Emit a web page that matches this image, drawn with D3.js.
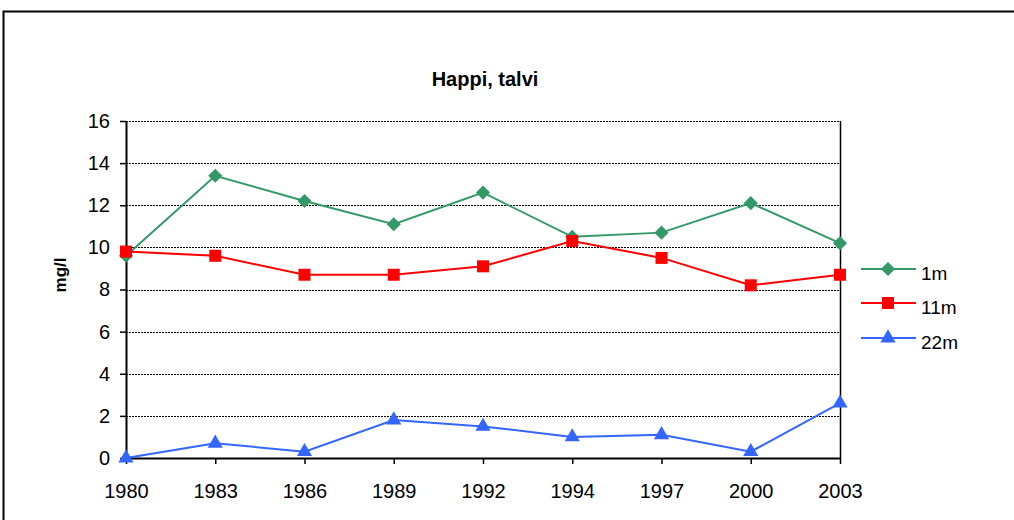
<!DOCTYPE html>
<html>
<head>
<meta charset="utf-8">
<script src="https://cdn.jsdelivr.net/npm/d3@7"></script>
<style>
  body { margin: 0; background: #fff; }
  svg { font-family: "Liberation Sans", Arial, sans-serif; }
</style>
</head>
<body>
<svg id="chart" width="1014" height="520"></svg>
<script>
// data
var years = ["1980", "1983", "1986", "1989", "1992", "1994", "1997", "2000", "2003"];
var depth1 = [9.6, 13.4, 12.2, 11.1, 12.6, 10.5, 10.7, 12.1, 10.2];
var depth11 = [9.8, 9.6, 8.7, 8.7, 9.1, 10.3, 9.5, 8.2, 8.7];
var depth22 = [0.0, 0.7, 0.3, 1.8, 1.5, 1.0, 1.1, 0.3, 2.6];
var yTicks = [0, 2, 4, 6, 8, 10, 12, 14, 16];

var series = [
    { name: "1m", values: depth1, color: "#339966", symbol: d3.symbolSquare, size: 100, rotate: 45 },
    { name: "11m", values: depth11, color: "#ff0000", symbol: d3.symbolSquare, size: 144, rotate: 0 },
    { name: "22m", values: depth22, color: "#3366ff", symbol: d3.symbolTriangle, size: 100, rotate: 0 }
];

var svg = d3.select("#chart");

// outer chart border
svg.append("rect")
    .attr("x", 3.5).attr("y", 11.5)
    .attr("width", 1030).attr("height", 530)
    .attr("fill", "none")
    .attr("stroke", "#000")
    .attr("stroke-width", 2);

var plotLeft = 126, plotRight = 840, plotTop = 121, plotBottom = 458;

var x = d3.scalePoint().domain(years).range([plotLeft, plotRight]);
var y = d3.scaleLinear().domain([0, 16]).range([plotBottom, plotTop]);

// title
svg.append("text")
    .attr("x", 485).attr("y", 86)
    .attr("text-anchor", "middle")
    .style("font-size", "20px")
    .style("font-weight", "bold")
    .text("Happi, talvi");

// gridlines
svg.append("g")
    .selectAll("line")
    .data(yTicks.filter(function(d) { return d > 0; }))
    .enter()
    .append("line")
    .attr("x1", plotLeft).attr("x2", plotRight)
    .attr("y1", function(d) { return Math.round(y(d)) + 0.5; })
    .attr("y2", function(d) { return Math.round(y(d)) + 0.5; })
    .attr("stroke", "#000")
    .attr("stroke-width", 1)
    .attr("stroke-dasharray", "2,1");

// right edge of plot area
svg.append("line")
    .attr("x1", plotRight + 0.5).attr("x2", plotRight + 0.5)
    .attr("y1", plotTop).attr("y2", plotBottom)
    .attr("stroke", "#000")
    .attr("stroke-width", 1.5);

// y axis
var yAxis = svg.append("g")
    .attr("transform", "translate(" + plotLeft + ",0)")
    .call(d3.axisLeft(y).tickValues(yTicks).tickSize(6).tickPadding(10).tickSizeOuter(0));
yAxis.select(".domain").attr("stroke-width", 2);
yAxis.selectAll("line").attr("stroke-width", 1.5);
yAxis.selectAll("text").style("font-size", "20px").attr("fill", "#000");

// x axis
var xAxis = svg.append("g")
    .attr("transform", "translate(0," + plotBottom + ")")
    .call(d3.axisBottom(x).tickSize(6).tickPadding(20).tickSizeOuter(0));
xAxis.select(".domain").attr("stroke-width", 2);
xAxis.selectAll("line").attr("stroke-width", 1.5);
xAxis.selectAll("text").style("font-size", "20px").attr("fill", "#000");

// y axis label
svg.append("text")
    .attr("transform", "translate(66,275) rotate(-90)")
    .attr("text-anchor", "middle")
    .style("font-size", "17px")
    .style("font-weight", "bold")
    .text("mg/l");

// lines and markers
var line = d3.line()
    .x(function(d, i) { return x(years[i]); })
    .y(function(d) { return y(d); });

series.forEach(function(s) {
    svg.append("path")
        .datum(s.values)
        .attr("d", line)
        .attr("fill", "none")
        .attr("stroke", s.color)
        .attr("stroke-width", 2);

    svg.append("g")
        .selectAll("path")
        .data(s.values)
        .enter()
        .append("path")
        .attr("transform", function(d, i) {
            return "translate(" + x(years[i]) + "," + y(d) + ") rotate(" + s.rotate + ")";
        })
        .attr("d", d3.symbol().type(s.symbol).size(s.size))
        .attr("fill", s.color);
});

// legend
var legend = svg.append("g").attr("transform", "translate(861,0)");
var legendY = [269, 303, 338];

series.forEach(function(s, i) {
    var g = legend.append("g").attr("transform", "translate(0," + legendY[i] + ")");
    g.append("line")
        .attr("x1", 0).attr("x2", 55)
        .attr("stroke", s.color)
        .attr("stroke-width", 2);
    g.append("path")
        .attr("transform", "translate(27,0) rotate(" + s.rotate + ")")
        .attr("d", d3.symbol().type(s.symbol).size(s.size))
        .attr("fill", s.color);
    g.append("text")
        .attr("x", 60).attr("y", 11)
        .style("font-size", "19px")
        .text(s.name);
});
</script>
</body>
</html>
